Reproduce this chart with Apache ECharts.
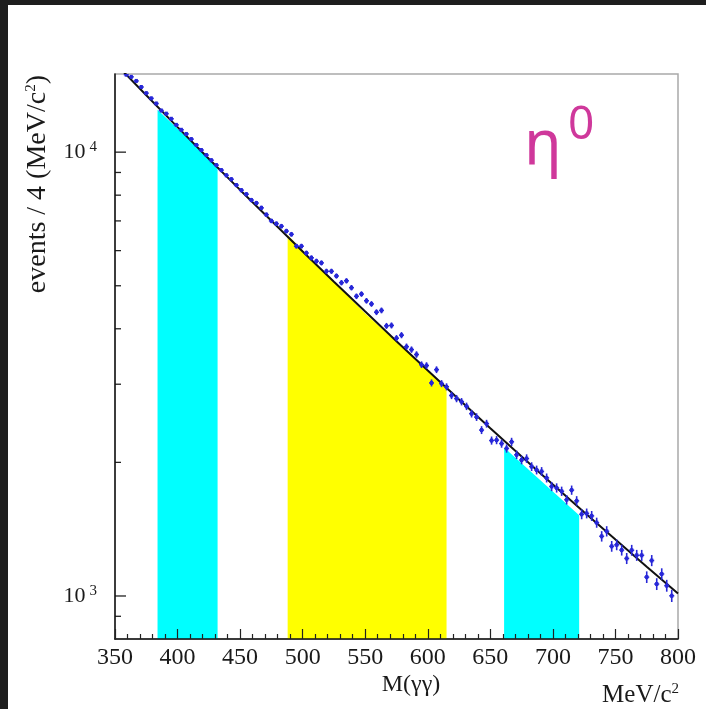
<!DOCTYPE html>
<html lang="en">
<head>
<meta charset="UTF-8">
<title>eta0 sidebands</title>
<style>
  html, body { margin:0; padding:0; background:#1e1e1e; }
  #paper { position:absolute; left:8px; top:5px; width:698px; height:704px; background:#fff; }
  #main { position:absolute; left:0; top:0; width:706px; height:709px; }
</style>
</head>
<body>
<div id="paper"></div>
<div id="main"></div>
<script src="https://cdn.jsdelivr.net/npm/echarts@6/dist/echarts.min.js"></script>
<script type="text/javascript">
// bin centres (MeV/c^2) and events per 4 MeV
var binX = [359, 363, 367, 371, 375, 379, 383, 387, 391, 395,
            399, 403, 407, 411, 415, 419, 423, 427, 431, 435,
            439, 443, 447, 451, 455, 459, 463, 467, 471, 475,
            479, 483, 487, 491, 495, 499, 503, 507, 511, 515,
            519, 523, 527, 531, 535, 539, 543, 547, 551, 555,
            559, 563, 567, 571, 575, 579, 583, 587, 591, 595,
            599, 603, 607, 611, 615, 619, 623, 627, 631, 635,
            639, 643, 647, 651, 655, 659, 663, 667, 671, 675,
            679, 683, 687, 691, 695, 699, 703, 707, 711, 715,
            719, 723, 727, 731, 735, 739, 743, 747, 751, 755,
            759, 763, 767, 771, 775, 779, 783, 787, 791, 795];
var counts = [14950, 14780, 14470, 14020, 13580, 13220, 12870, 12410, 12210, 11890,
              11520, 11230, 10990, 10700, 10380, 10110, 9850, 9590, 9350, 9110,
              8870, 8690, 8430, 8210, 8040, 7800, 7680, 7490, 7230, 7000,
              6900, 6810, 6640, 6530, 6140, 6140, 5925, 5780, 5680, 5630,
              5390, 5390, 5260, 5080, 5130, 4950, 4735, 4790, 4625, 4550,
              4360, 4400, 4060, 4070, 3810, 3870, 3645, 3590, 3500, 3320,
              3305, 3020, 3235, 3010, 2960, 2830, 2785, 2740, 2675, 2575,
              2530, 2365, 2445, 2240, 2245, 2205, 2150, 2225, 2080, 2025,
              2040, 1957, 1923, 1908, 1845, 1765, 1752, 1722, 1648, 1732,
              1638, 1528, 1535, 1515, 1463, 1363, 1399, 1294, 1304, 1269,
              1215, 1268, 1235, 1235, 1103, 1202, 1064, 1121, 1055, 1001];

// background fit curve
var fitX = [350, 375, 400, 425, 450, 475, 500, 525, 550, 575,
            600, 625, 650, 675, 700, 725, 750, 775, 800];
var fitY = [15875, 13435, 11386, 9667, 8221, 7003, 5975, 5107, 4373, 3750,
            3221, 2771, 2388, 2062, 1783, 1544, 1340, 1164, 1013];

// shaded mass windows (edges and the height of the fill there)
var sideLowX = [384, 432];
var sideLowY = [12456, 9280];
var signalX = [488, 550, 615];
var signalY = [6510, 4330, 2951];
var sideHighX = [661, 721];
var sideHighY = [2161, 1521];

// log axis tick marks
var yTickVals = [900, 1000, 2000, 3000, 4000, 5000, 6000, 7000, 8000, 9000, 10000];

var serif = '"Liberation Serif", "DejaVu Serif", serif';
var blue = '#2727d8';

function pairs(xs, ys) {
    var out = [];
    for (var i = 0; i < xs.length; i++) out.push([xs[i], ys[i]]);
    return out;
}
function isPow10(v) {
    var e = Math.round(Math.log10(v));
    return Math.abs(v - Math.pow(10, e)) < 1e-6 * v;
}

var pointData = [];
for (var i = 0; i < binX.length; i++) {
    pointData.push([binX[i], counts[i], Math.sqrt(counts[i])]);
}

function renderPoint(params, api) {
    var x = api.value(0), y = api.value(1), e = api.value(2);
    var c = api.coord([x, y]);
    var up = api.coord([x, y + e]);
    var dn = api.coord([x, y - e]);
    var l = api.coord([x - 2, y]);
    var r = api.coord([x + 2, y]);
    return {
        type: 'group',
        children: [
            {type: 'line', shape: {x1: c[0], y1: up[1], x2: c[0], y2: dn[1]}, style: {stroke: blue, lineWidth: 1.6}},
            {type: 'line', shape: {x1: l[0], y1: c[1], x2: r[0], y2: c[1]}, style: {stroke: blue, lineWidth: 1.6}},
            {type: 'rect', shape: {x: c[0] - 1.6, y: c[1] - 2, width: 3.2, height: 4}, style: {fill: blue}}
        ]
    };
}

function renderTick(params, api) {
    var v = api.value(1);
    var p = api.coord([api.value(0), v]);
    var len = isPow10(v) ? 11 : 6;
    return {
        type: 'line',
        shape: {x1: p[0], y1: p[1], x2: p[0] + len, y2: p[1]},
        style: {stroke: '#222', lineWidth: 1.3}
    };
}

function band(name, xs, ys, color) {
    return {
        name: name,
        type: 'line',
        data: pairs(xs, ys),
        symbol: 'none',
        silent: true,
        z: 1,
        lineStyle: {width: 0},
        areaStyle: {color: color, opacity: 1, origin: 'start'}
    };
}

var supStyle = {fontFamily: serif, fontSize: 15, verticalAlign: 'top', padding: [0, 0, 11, 0], fill: '#1a1a1a'};

var option = {
    animation: false,
    grid: {
        left: 115, right: 28, top: 74, bottom: 70,
        show: true, borderColor: '#a9a9a9', borderWidth: 1.5,
        backgroundColor: 'transparent'
    },
    xAxis: {
        type: 'value',
        min: 350, max: 800, interval: 50,
        z: 10,
        axisLine: {lineStyle: {color: '#111', width: 1.5}},
        axisTick: {inside: true, length: 10, lineStyle: {color: '#222', width: 1.2}},
        minorTick: {show: true, splitNumber: 5, length: 5, lineStyle: {color: '#222', width: 1.2}},
        splitLine: {show: false},
        axisLabel: {fontFamily: serif, fontSize: 24, color: '#1a1a1a', margin: 7}
    },
    yAxis: {
        type: 'log',
        logBase: 10,
        min: 800, max: 15000,
        z: 10,
        axisLine: {lineStyle: {color: '#111', width: 1.5}},
        axisTick: {show: false},
        splitLine: {show: false},
        axisLabel: {
            margin: 18,
            formatter: function (v) {
                if (!isPow10(v)) return '';
                return '{b|10}{s|' + Math.round(Math.log10(v)) + '}';
            },
            rich: {
                b: {fontFamily: serif, fontSize: 22, color: '#1a1a1a'},
                s: {fontFamily: serif, fontSize: 15, color: '#1a1a1a', verticalAlign: 'top', padding: [0, 0, 10, 4]}
            }
        }
    },
    graphic: [
        {type: 'text', x: 38, y: 75, rotation: Math.PI / 2,
         style: {text: 'events / 4 (MeV/c{s|2})', textAlign: 'right', textVerticalAlign: 'middle',
                 font: '28px ' + serif, fill: '#1a1a1a', rich: {s: supStyle}}},
        {type: 'text', x: 411, y: 685,
         style: {text: 'M(γγ)', textAlign: 'center', textVerticalAlign: 'middle', font: '24px ' + serif, fill: '#1a1a1a'}},
        {type: 'text', x: 679, y: 695,
         style: {text: 'MeV/c{s|2}', textAlign: 'right', textVerticalAlign: 'middle', font: '25px ' + serif, fill: '#1a1a1a',
                 rich: {s: supStyle}}},
        {type: 'text', x: 524, y: 146,
         style: {text: 'η', textAlign: 'left', textVerticalAlign: 'middle', font: '62px "Noto Sans"', fill: '#cf389b'}},
        {type: 'text', x: 568, y: 126,
         style: {text: '0', textAlign: 'left', textVerticalAlign: 'middle', font: '46px "Noto Sans"', fill: '#cf389b'}}
    ],
    series: [
        band('low sideband', sideLowX, sideLowY, '#00ffff'),
        band('signal', signalX, signalY, '#ffff00'),
        band('high sideband', sideHighX, sideHighY, '#00ffff'),
        {
            name: 'fit',
            type: 'line',
            data: pairs(fitX, fitY),
            symbol: 'none',
            z: 3,
            clip: true,
            lineStyle: {color: '#111', width: 2}
        },
        {
            name: 'data',
            type: 'custom',
            renderItem: renderPoint,
            data: pointData,
            clip: true,
            z: 4
        },
        {
            name: 'yticks',
            type: 'custom',
            renderItem: renderTick,
            data: yTickVals.map(function (v) { return [350, v]; }),
            silent: true,
            z: 5
        }
    ]
};

var myChart = echarts.init(document.getElementById('main'));
myChart.setOption(option);
</script>
</body>
</html>
